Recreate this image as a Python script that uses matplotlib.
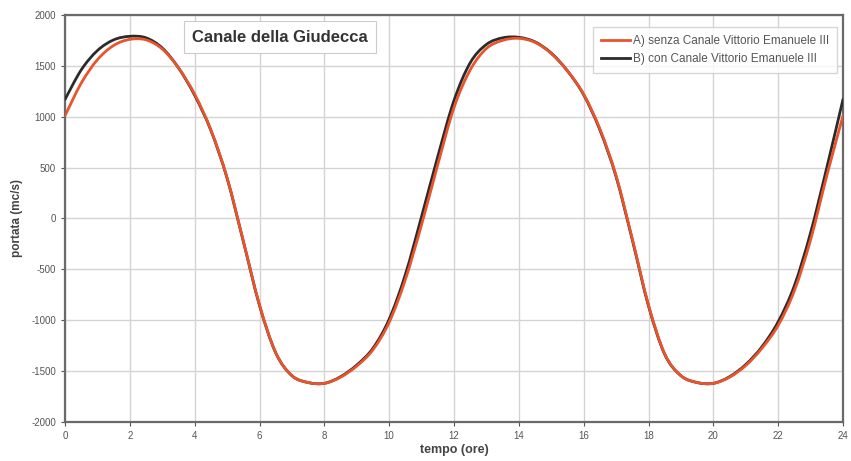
import matplotlib
matplotlib.use("Agg")
import matplotlib.pyplot as plt
from matplotlib.path import Path
from matplotlib.patches import PathPatch
from matplotlib.lines import Line2D

plt.rcParams['font.family'] = ['Liberation Sans', 'DejaVu Sans']
plt.rcParams['axes.unicode_minus'] = False

# tempo (ore), half-hour steps over one day
ore = [0.0, 0.5, 1.0, 1.5, 2.0, 2.5, 3.0, 3.5, 4.0, 4.5, 5.0, 5.5,
       6.0, 6.5, 7.0, 7.5, 8.0, 8.5, 9.0, 9.5, 10.0, 10.5, 11.0, 11.5,
       12.0, 12.5, 13.0, 13.5, 14.0, 14.5, 15.0, 15.5, 16.0, 16.5, 17.0, 17.5,
       18.0, 18.5, 19.0, 19.5, 20.0, 20.5, 21.0, 21.5, 22.0, 22.5, 23.0, 23.5,
       24.0]

# portata (mc/s) - A) senza Canale Vittorio Emanuele III
portata_a = [1010, 1330, 1560, 1700, 1760, 1755, 1665, 1480, 1220, 870, 400, -220,
             -850, -1320, -1545, -1612, -1620, -1560, -1450, -1290, -1020, -600, -60, 530,
             1090, 1460, 1670, 1750, 1770, 1730, 1620, 1450, 1220, 880, 420, -200,
             -850, -1330, -1545, -1612, -1620, -1560, -1445, -1275, -1050, -710, -210, 420,
             1010]

# portata (mc/s) - B) con Canale Vittorio Emanuele III
portata_b = [1170, 1460, 1650, 1755, 1790, 1775, 1675, 1480, 1210, 865, 395, -225,
             -855, -1320, -1545, -1612, -1620, -1555, -1440, -1275, -990, -550, 20, 610,
             1160, 1530, 1710, 1775, 1780, 1735, 1625, 1450, 1215, 870, 410, -210,
             -860, -1335, -1545, -1612, -1620, -1555, -1435, -1260, -1015, -660, -140, 500,
             1170]

label_a = 'A) senza Canale Vittorio Emanuele III'
label_b = 'B) con Canale Vittorio Emanuele III'

xticks = list(range(0, 25, 2))
yticks = list(range(-2000, 2001, 500))


def smooth_path(xs, ys):
    # spreadsheet-style smoothed line: cubic bezier through every point
    n = len(xs)
    verts = [(xs[0], ys[0])]
    codes = [Path.MOVETO]
    for i in range(n - 1):
        i0 = max(i - 1, 0)
        i3 = min(i + 2, n - 1)
        c1 = (xs[i] + (xs[i + 1] - xs[i0]) / 6, ys[i] + (ys[i + 1] - ys[i0]) / 6)
        c2 = (xs[i + 1] - (xs[i3] - xs[i]) / 6, ys[i + 1] - (ys[i3] - ys[i]) / 6)
        verts += [c1, c2, (xs[i + 1], ys[i + 1])]
        codes += [Path.CURVE4] * 3
    return Path(verts, codes)


fig = plt.figure(figsize=(8.51, 4.61), dpi=100)
ax = fig.add_axes([0.0764, 0.0846, 0.9142, 0.883])

col_a = '#e8542c'
col_b = '#2b2b2b'
ax.add_patch(PathPatch(smooth_path(ore, portata_b), fill=False, edgecolor=col_b,
                       lw=2.0, capstyle='round', joinstyle='round', zorder=3))
ax.add_patch(PathPatch(smooth_path(ore, portata_a), fill=False, edgecolor=col_a,
                       lw=2.0, capstyle='round', joinstyle='round', zorder=4))

ax.set_xlim(0, 24)
ax.set_ylim(-2000, 2000)
ax.set_xticks(xticks)
ax.set_yticks(yticks)
ax.grid(True, color='#d4d4d4', lw=1.0)
ax.set_axisbelow(True)

for s in ax.spines.values():
    s.set_color('#6a6a6a')
    s.set_linewidth(1.6)

ax.tick_params(labelsize=7, colors='#555555', length=3, width=0.8)
ax.set_xlabel('tempo (ore)', fontsize=9, fontweight='bold', color='#444444', labelpad=2)
ax.set_ylabel('portata (mc/s)', fontsize=8.5, fontweight='bold', color='#444444', labelpad=6)

handles = [Line2D([], [], color=col_a, lw=2.0), Line2D([], [], color=col_b, lw=2.0)]
leg = ax.legend(handles, [label_a, label_b], loc='upper right', fontsize=8.5,
                frameon=True, fancybox=False, edgecolor='#cccccc',
                handlelength=2.5, handletextpad=0.2, borderpad=0.7, labelspacing=0.5,
                bbox_to_anchor=(1.0, 0.985))
for t in leg.get_texts():
    t.set_color('#555555')

ax.text(0.276, 0.945, 'Canale della Giudecca', transform=ax.transAxes,
        ha='center', va='center', fontsize=12, fontweight='bold', color='#333333',
        bbox=dict(boxstyle='square,pad=0.5', facecolor='white', edgecolor='#cccccc', lw=0.8),
        zorder=5)

fig.savefig('out.png', dpi=100)
